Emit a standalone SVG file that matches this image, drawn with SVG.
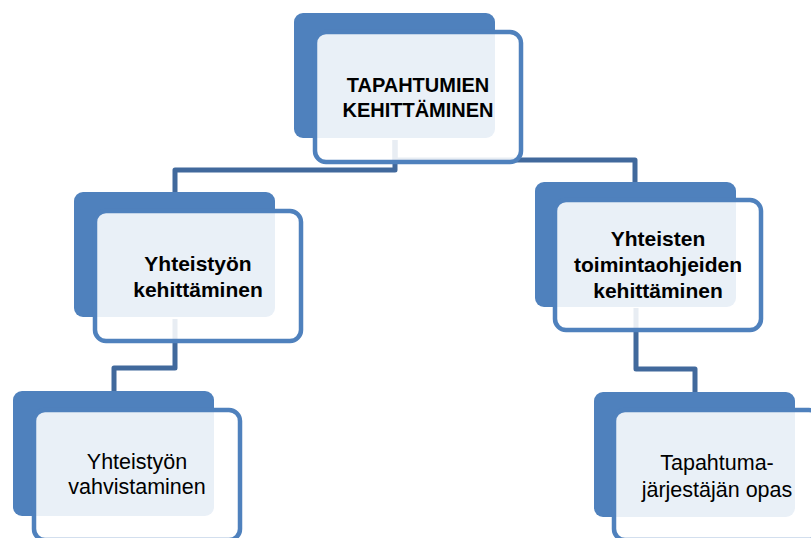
<svg xmlns="http://www.w3.org/2000/svg" width="811" height="538" viewBox="0 0 811 538">
<style>
.back{fill:#4F81BD}
.front{fill:#FFFFFF;fill-opacity:0.88;stroke:#4F81BD;stroke-width:4.5}
.conn{fill:none;stroke:#41699C;stroke-width:5;stroke-linejoin:round}
.tb{font-family:"Liberation Sans",Arial,sans-serif;font-weight:bold;fill:#000;text-anchor:middle}
.tr{font-family:"Liberation Sans",Arial,sans-serif;fill:#000;text-anchor:middle}
</style>
<rect width="811" height="538" fill="#FFFFFF"/>
<g id="connectors">
<path class="conn" d="M395 140 V170 H175 V193"/>
<path class="conn" d="M395 140 V160 H635 V183"/>
<path class="conn" d="M175 319 V368 H114 V392"/>
<path class="conn" d="M636 308 V369 H695 V393"/>
</g>
<g id="node-top">
<rect class="back" x="294" y="13" width="201" height="125" rx="9"/>
<rect class="front" x="315" y="32" width="206" height="130" rx="11"/>
<text class="tb" font-size="20" x="418" y="92">TAPAHTUMIEN</text>
<text class="tb" font-size="20" x="418" y="117">KEHITTÄMINEN</text>
</g>
<g id="node-yhteistyon-kehittaminen">
<rect class="back" x="74" y="192" width="201" height="125" rx="9"/>
<rect class="front" x="95" y="211" width="206" height="130" rx="11"/>
<text class="tb" font-size="21" x="198" y="271">Yhteistyön</text>
<text class="tb" font-size="21" x="198" y="297">kehittäminen</text>
</g>
<g id="node-yhteisten-toimintaohjeiden">
<rect class="back" x="535" y="182" width="201" height="125" rx="9"/>
<rect class="front" x="555" y="200" width="206" height="130" rx="11"/>
<text class="tb" font-size="21" x="658" y="246">Yhteisten</text>
<text class="tb" font-size="21" x="658" y="272">toimintaohjeiden</text>
<text class="tb" font-size="21" x="658" y="298">kehittäminen</text>
</g>
<g id="node-yhteistyon-vahvistaminen">
<rect class="back" x="13" y="391" width="201" height="125" rx="9"/>
<rect class="front" x="34" y="410" width="206" height="130" rx="11"/>
<text class="tr" font-size="21.5" x="137" y="469">Yhteistyön</text>
<text class="tr" font-size="21.5" x="137" y="494">vahvistaminen</text>
</g>
<g id="node-tapahtumajarjestajan-opas">
<rect class="back" x="594" y="392" width="201" height="125" rx="9"/>
<rect class="front" x="614" y="410" width="206" height="130" rx="11"/>
<text class="tr" font-size="21.5" x="717" y="470">Tapahtuma-</text>
<text class="tr" font-size="21.5" x="717" y="497">järjestäjän opas</text>
</g>
</svg>
